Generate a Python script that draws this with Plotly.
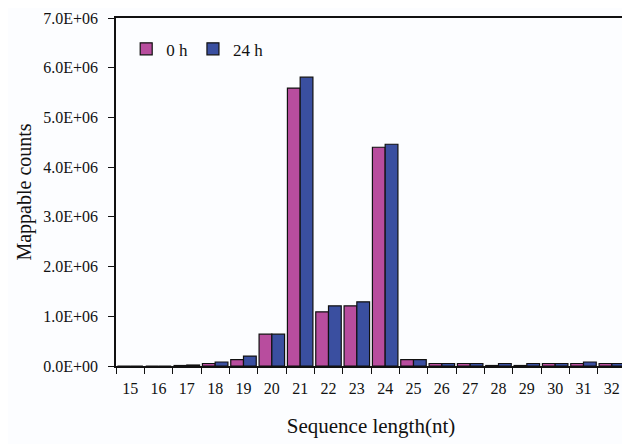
import plotly.graph_objects as go

lengths = ["15", "16", "17", "18", "19", "20", "21", "22", "23", "24",
           "25", "26", "27", "28", "29", "30", "31", "32"]
counts_0h = [0.0, 0.0, 0.01e6, 0.05e6, 0.13e6, 0.64e6, 5.59e6, 1.09e6, 1.21e6, 4.40e6,
             0.13e6, 0.05e6, 0.05e6, 0.01e6, 0.01e6, 0.05e6, 0.05e6, 0.05e6]
counts_24h = [0.0, 0.0, 0.02e6, 0.08e6, 0.20e6, 0.64e6, 5.81e6, 1.21e6, 1.29e6, 4.46e6,
              0.13e6, 0.05e6, 0.05e6, 0.05e6, 0.05e6, 0.05e6, 0.08e6, 0.05e6]
y_tickvals = [0, 1e6, 2e6, 3e6, 4e6, 5e6, 6e6, 7e6]
y_ticktext = ["0.0E+00", "1.0E+06", "2.0E+06", "3.0E+06", "4.0E+06",
              "5.0E+06", "6.0E+06", "7.0E+06"]

font_family = "Liberation Serif"

fig = go.Figure()
fig.add_trace(go.Bar(x=lengths, y=counts_0h, name="0 h",
                     marker=dict(color="#B84D9E", line=dict(color="#111111", width=1.2))))
fig.add_trace(go.Bar(x=lengths, y=counts_24h, name="24 h",
                     marker=dict(color="#3A4FA0", line=dict(color="#111111", width=1.2))))

# page body has an 8px margin, so the figure is sized 8px smaller on each axis
fig.update_layout(
    width=622, height=436,
    margin=dict(l=108, r=2, t=9, b=78),
    paper_bgcolor="#fcfdff", plot_bgcolor="#fcfdff",
    barmode="group", bargap=0.1, bargroupgap=0.0,
    font=dict(family=font_family, size=16, color="#111111"),
    legend=dict(orientation="h", x=0.02, y=0.91, xanchor="left", yanchor="middle",
                bgcolor="rgba(0,0,0,0)", font=dict(family=font_family, size=17),
                itemwidth=30, tracegroupgap=0),
    showlegend=True,
)
fig.update_xaxes(
    title=dict(text="Sequence length(nt)", font=dict(family=font_family, size=21), standoff=22),
    showline=True, linecolor="#111111", linewidth=1.5, mirror=True,
    ticks="outside", tickson="boundaries", ticklen=6, tickcolor="#111111",
    ticklabelstandoff=7,
    showgrid=False, tickfont=dict(family=font_family, size=16),
)
fig.update_yaxes(
    title=dict(text="Mappable counts", font=dict(family=font_family, size=20), standoff=6),
    range=[0, 7e6], tickvals=y_tickvals, ticktext=y_ticktext,
    showline=True, linecolor="#111111", linewidth=1.5, mirror=True,
    ticks="outside", ticklen=6, tickcolor="#111111",
    ticklabelstandoff=7, ticklabeloverflow="allow",
    showgrid=False, zeroline=False, tickfont=dict(family=font_family, size=16),
)

fig.write_html("out.html")
